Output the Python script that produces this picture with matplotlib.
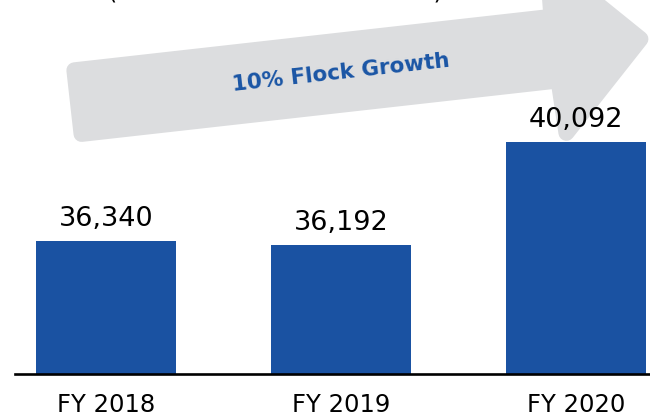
import numpy as np
import matplotlib
matplotlib.use("Agg")
import matplotlib.pyplot as plt
from matplotlib.patches import Polygon

# Datos del gráfico
years = ["FY 2018", "FY 2019", "FY 2020"]
flock = [36340, 36192, 40092]
growth_label = "10% Flock Growth"
subtitle = "(Breeder flock in thousands)"

bar_color = "#1a52a2"
arrow_color = "#dcdddf"

W, H = 650, 416
fig = plt.figure(figsize=(W / 100, H / 100), dpi=100)

# Eje en coordenadas de píxel: línea base en y=374, inicia en x=15
ax = fig.add_axes([15 / W, (H - 374) / H, 1 - 15 / W, 374 / H])
ax.patch.set_visible(False)

x = np.arange(len(years))
ax.bar(x, flock, width=0.595, color=bar_color, zorder=2)

ax.set_xlim((15 - 106) / 235, (650 - 106) / 235)
ax.set_ylim(31300, 45472)

for xi, v in zip(x, flock):
    ax.annotate(f"{v:,}", (xi, v), xytext=(0, 11), textcoords="offset points",
                ha="center", va="baseline", fontsize=19.5, color="black")

ax.set_xticks(x)
ax.set_xticklabels(years, fontsize=17.5)
ax.tick_params(axis="x", length=0, pad=14)
ax.set_yticks([])
for s in ["left", "right", "top"]:
    ax.spines[s].set_visible(False)
ax.spines["bottom"].set_linewidth(1.9)
ax.spines["bottom"].set_color("black")

# Flecha gris (marco local: u a lo largo de la flecha, v perpendicular)
theta = np.deg2rad(6.4)
origin = np.array([70.0, 103.0])
d = np.array([np.cos(theta), -np.sin(theta)])
n = np.array([-np.sin(theta), -np.cos(theta)])
r = 8
local = [(r, -40 + r), (488, -40 + r), (490, -93 + r), (582 - r, 0),
         (490, 93 - r), (488, 40 - r), (r, 40 - r)]
pts = []
for u, v in local:
    p = origin + u * d + v * n
    pts.append((p[0] / W, 1 - p[1] / H))
arrow = Polygon(pts, closed=True, facecolor=arrow_color, edgecolor=arrow_color,
                linewidth=2 * r * 0.72, joinstyle="round", transform=fig.transFigure,
                zorder=-1)
fig.add_artist(arrow)

tc = origin + 273 * d
fig.text(tc[0] / W, 1 - tc[1] / H, growth_label, rotation=6.4, rotation_mode="anchor",
         ha="center", va="center", fontsize=15.5, fontweight="bold", color="#1a55a5")

# Subtítulo cortado en la parte superior (como en la referencia)
fig.text(275 / W, 1 + 2 / H, subtitle, ha="center", va="baseline", fontsize=17)

fig.savefig("out.png", dpi=100)
